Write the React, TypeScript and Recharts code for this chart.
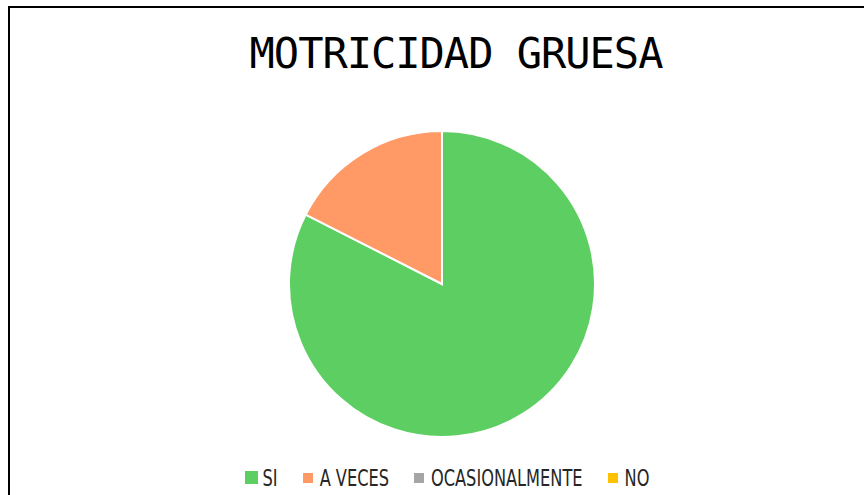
import { PieChart, Pie, Cell, Legend } from 'recharts';

const categories = ['SI', 'A VECES', 'OCASIONALMENTE', 'NO'];
const values = [33, 7, 0, 0];
const colors = ['#5CCE62', '#FF9966', '#A5A5A5', '#FFC000'];

const data = categories.map((name, i) => ({ name, value: values[i] }));

const LegendContent = ({ payload }: any) => {
  const items = [...(payload || [])].sort(
    (a: any, b: any) => categories.indexOf(a.value) - categories.indexOf(b.value)
  );
  return (
    <div style={{ display: 'flex', justifyContent: 'center', alignItems: 'center', gap: 25 }}>
      {items.map((p: any, i: number) => (
        <div key={p.value} style={{ display: 'flex', alignItems: 'center', gap: i === 0 ? 5 : 7 }}>
          <span
            style={{
              width: i === 0 ? 13 : 10,
              height: i === 0 ? 13 : 10,
              background: p.color,
              display: 'inline-block',
            }}
          />
          <span
            style={{
              fontFamily: '"DejaVu Sans Condensed", sans-serif',
              fontSize: 18,
              color: '#262626',
              display: 'inline-block',
              transform: 'scaleY(1.3)',
            }}
          >
            {p.value}
          </span>
        </div>
      ))}
    </div>
  );
};

export default function App() {
  return (
    <div
      style={{
        position: 'absolute',
        top: 6,
        left: 8,
        width: 856,
        height: 489,
        borderTop: '2px solid #000',
        borderLeft: '2px solid #000',
        boxSizing: 'border-box',
        background: '#fff',
      }}
    >
      <div
        style={{
          position: 'absolute',
          top: 21,
          left: 0,
          width: 892,
          textAlign: 'center',
          fontFamily: '"DejaVu Sans Mono", monospace',
          fontSize: 42,
          letterSpacing: -1,
          color: '#000',
        }}
      >
        MOTRICIDAD GRUESA
      </div>
      <PieChart width={854} height={487} style={{ position: 'absolute', top: 0, left: 0 }}>
        <Pie
          data={data}
          dataKey="value"
          nameKey="name"
          cx={427}
          cy={271}
          outerRadius={153}
          startAngle={90}
          endAngle={-270}
          stroke="#fff"
          strokeWidth={2}
          isAnimationActive={false}
        >
          {data.map((d, i) => (
            <Cell key={d.name} fill={colors[i]} />
          ))}
        </Pie>
        <Legend
          content={<LegendContent />}
          wrapperStyle={{ position: 'absolute', left: 0, width: 874, top: 459 }}
        />
      </PieChart>
    </div>
  );
}
